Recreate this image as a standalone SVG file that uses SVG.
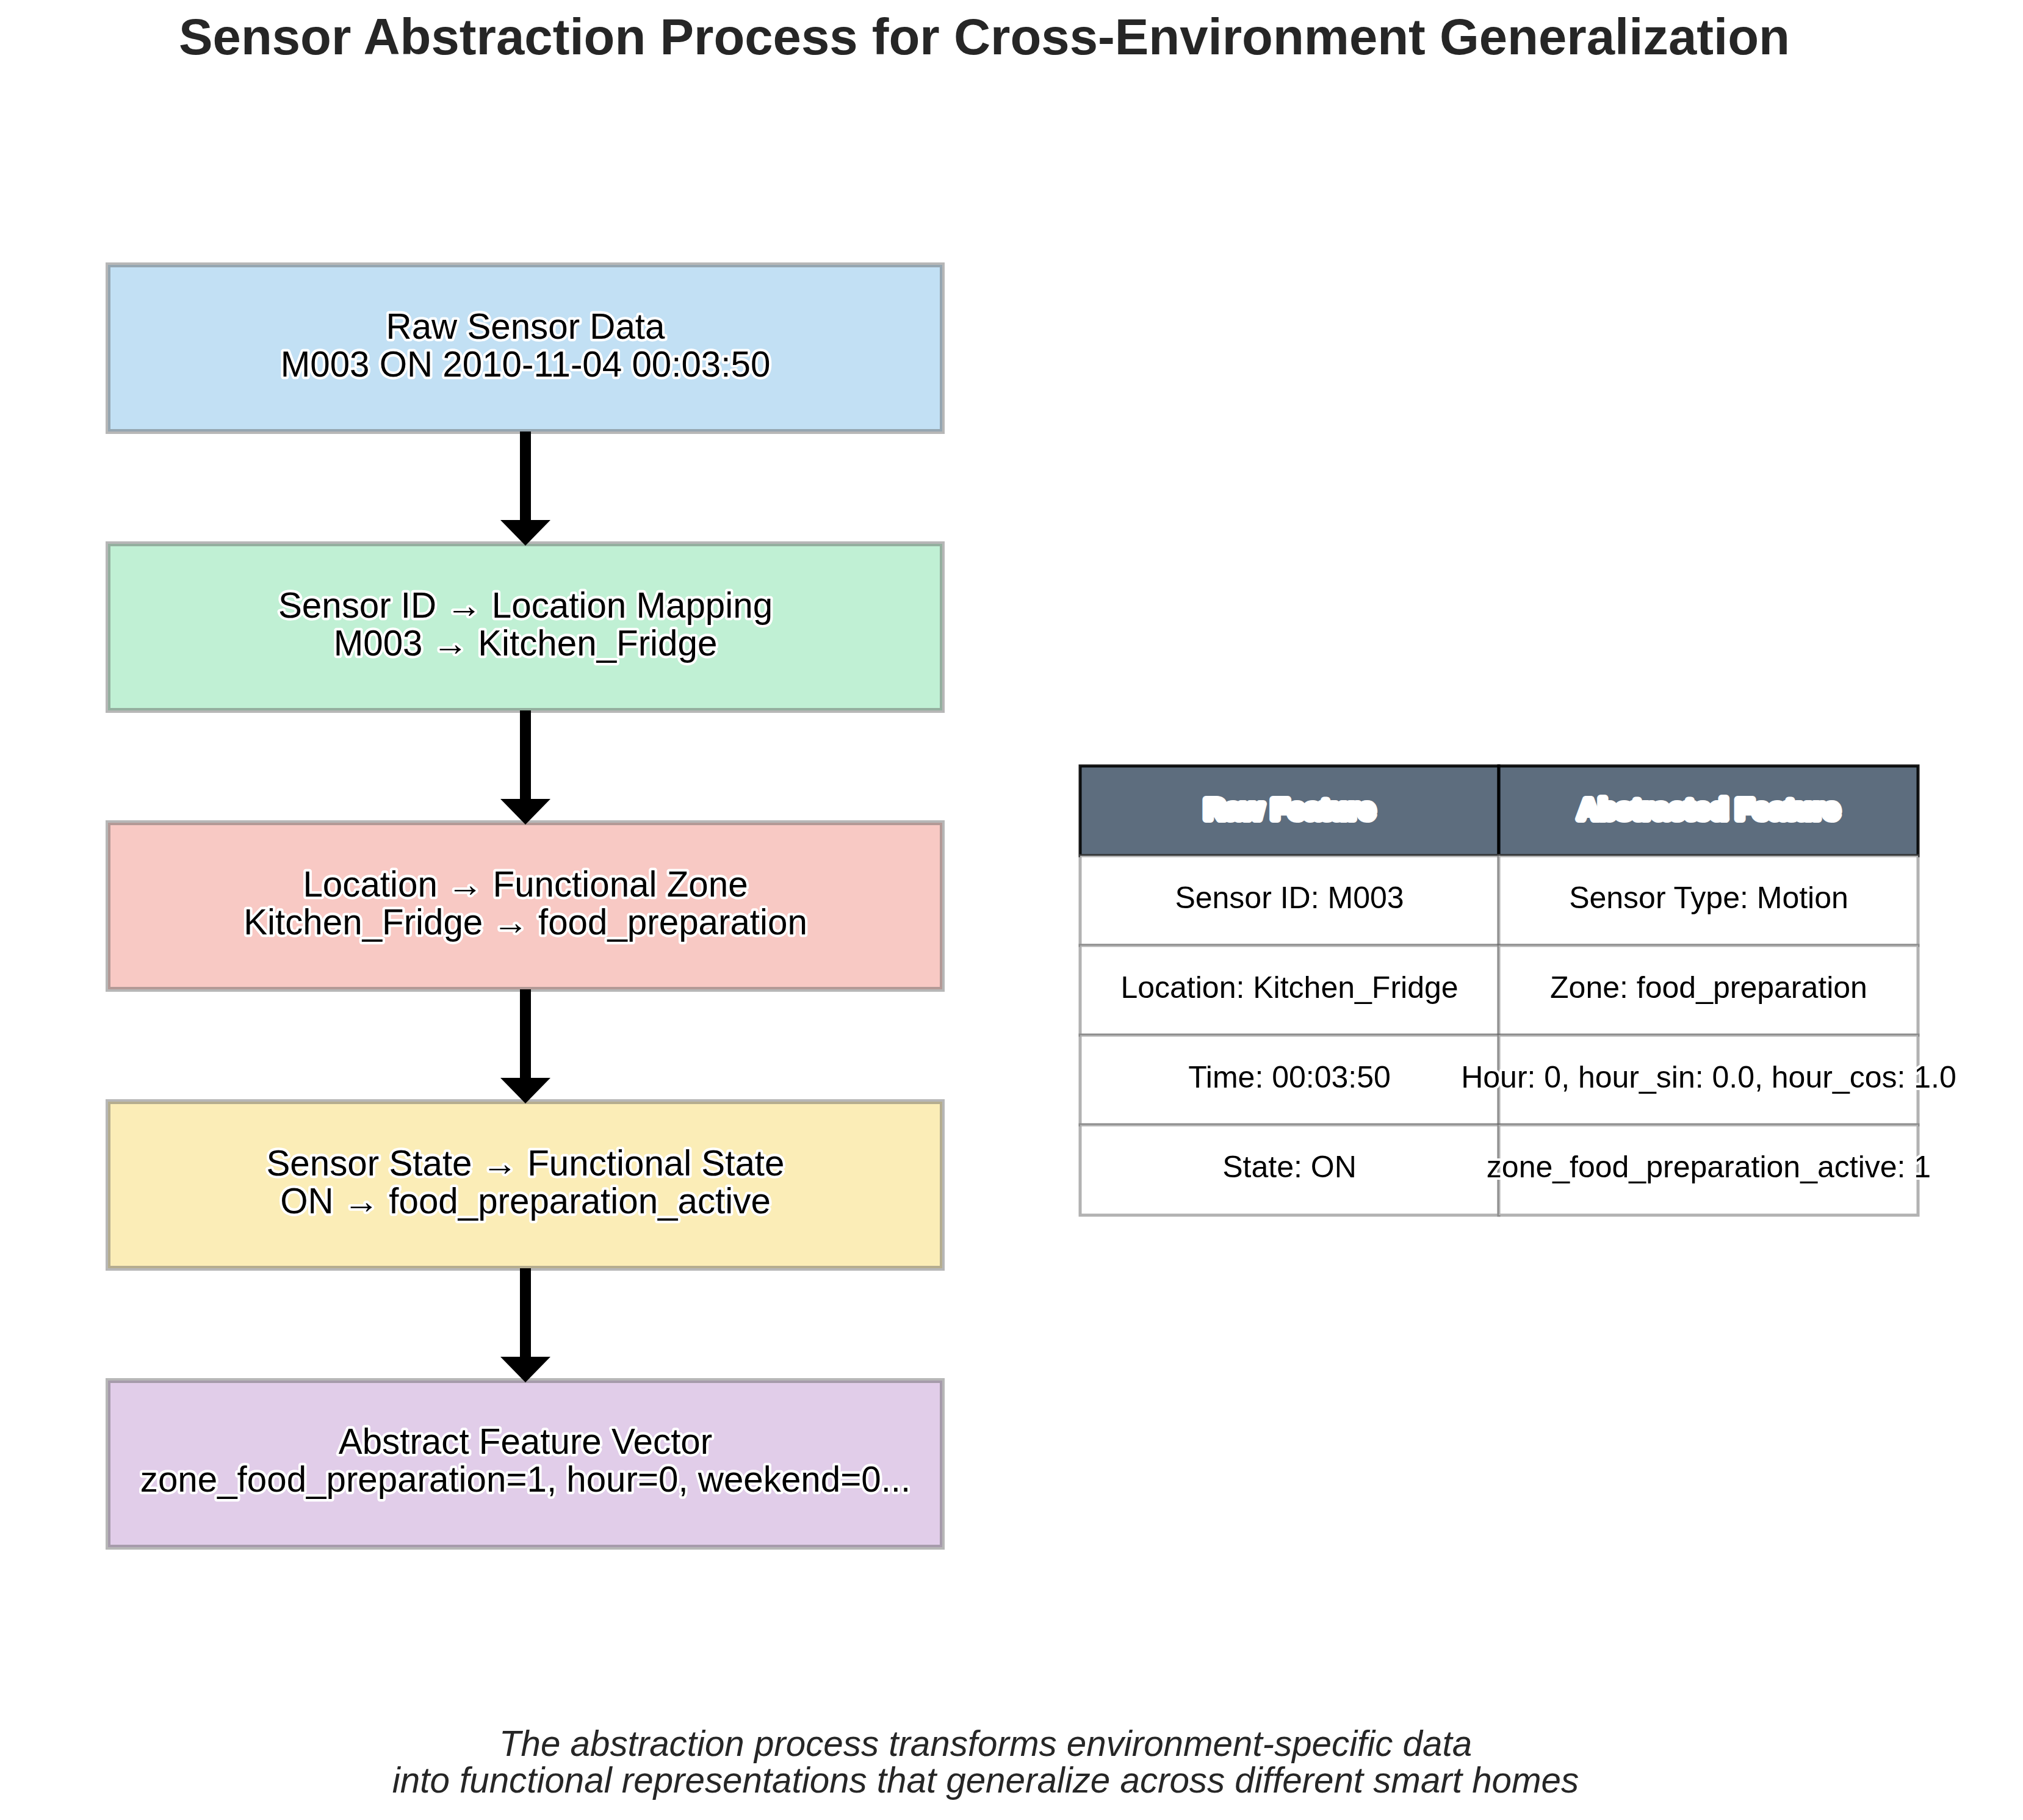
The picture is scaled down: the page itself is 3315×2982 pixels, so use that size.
<svg xmlns="http://www.w3.org/2000/svg" width="3315" height="2982" viewBox="0 0 3315 2982">
<defs>
<style>
.box{stroke:#606060;stroke-opacity:0.45;stroke-width:8}
.nt{font-family:"Liberation Sans",Arial,"DejaVu Sans",sans-serif;font-size:58.3px;fill:#000;text-anchor:middle;stroke:#fff;stroke-width:8.3;stroke-linejoin:round;paint-order:stroke}
.arrow{stroke:#000;stroke-width:18;fill:none}
.hc{fill:#34495e;fill-opacity:0.8;stroke:#000;stroke-opacity:0.9;stroke-width:5}
.bc{fill:#fff;stroke:#666;stroke-opacity:0.5;stroke-width:5}
.ht{font-family:"Liberation Sans",Arial,sans-serif;font-size:47px;font-weight:bold;fill:#fff;text-anchor:middle;stroke:#fff;stroke-width:12;stroke-linejoin:round;paint-order:stroke}
.bt{font-family:"Liberation Sans",Arial,sans-serif;font-size:50px;fill:#000;text-anchor:middle;stroke:#fff;stroke-width:8;stroke-linejoin:round;paint-order:stroke}
.title{font-family:"Liberation Sans",Arial,sans-serif;font-size:83.3px;font-weight:bold;fill:#262626;text-anchor:middle}
.cap{font-family:"Liberation Sans",Arial,sans-serif;font-size:58.3px;font-style:italic;fill:#262626;text-anchor:middle}
</style>
<marker id="ah" markerUnits="userSpaceOnUse" viewBox="0 0 42 82" markerWidth="42" markerHeight="82" refX="0" refY="41" orient="auto">
<path d="M0,0 L42,41 L0,82 z" fill="#000"/>
</marker>
</defs>
<rect width="3315" height="2982" fill="#fff"/>
<text class="title" x="1613" y="89">Sensor Abstraction Process for Cross-Environment Generalization</text>

<g id="node-raw">
<rect class="box" x="177" y="434" width="1367" height="273" fill="#3498db" fill-opacity="0.3"/>
<text class="nt" x="861" y="555">Raw Sensor Data</text>
<text class="nt" x="861" y="617">M003 ON 2010-11-04 00:03:50</text>
</g>
<g id="node-location">
<rect class="box" x="177" y="891" width="1367" height="273" fill="#2ecc71" fill-opacity="0.3"/>
<text class="nt" x="861" y="1012">Sensor ID → Location Mapping</text>
<text class="nt" x="861" y="1074">M003 → Kitchen_Fridge</text>
</g>
<g id="node-zone">
<rect class="box" x="177" y="1348" width="1367" height="273" fill="#e74c3c" fill-opacity="0.3"/>
<text class="nt" x="861" y="1469">Location → Functional Zone</text>
<text class="nt" x="861" y="1531">Kitchen_Fridge → food_preparation</text>
</g>
<g id="node-state">
<rect class="box" x="177" y="1805" width="1367" height="273" fill="#f1c40f" fill-opacity="0.3"/>
<text class="nt" x="861" y="1926">Sensor State → Functional State</text>
<text class="nt" x="861" y="1988">ON → food_preparation_active</text>
</g>
<g id="node-vector">
<rect class="box" x="177" y="2262" width="1367" height="273" fill="#9b59b6" fill-opacity="0.3"/>
<text class="nt" x="861" y="2382">Abstract Feature Vector</text>
<text class="nt" x="861" y="2444">zone_food_preparation=1, hour=0, weekend=0...</text>
</g>

<g id="connectors">
<line class="arrow" x1="861" y1="707" x2="861" y2="852" marker-end="url(#ah)"/>
<line class="arrow" x1="861" y1="1164" x2="861" y2="1309" marker-end="url(#ah)"/>
<line class="arrow" x1="861" y1="1621" x2="861" y2="1766" marker-end="url(#ah)"/>
<line class="arrow" x1="861" y1="2078" x2="861" y2="2223" marker-end="url(#ah)"/>
</g>

<g id="table">
<rect class="hc" x="1770" y="1255" width="686" height="147"/>
<rect class="hc" x="2456" y="1255" width="687" height="147"/>
<rect class="bc" x="1770" y="1402" width="686" height="147"/>
<rect class="bc" x="2456" y="1402" width="687" height="147"/>
<rect class="bc" x="1770" y="1549" width="686" height="147"/>
<rect class="bc" x="2456" y="1549" width="687" height="147"/>
<rect class="bc" x="1770" y="1696" width="686" height="147"/>
<rect class="bc" x="2456" y="1696" width="687" height="147"/>
<rect class="bc" x="1770" y="1843" width="686" height="148"/>
<rect class="bc" x="2456" y="1843" width="687" height="148"/>
<text class="ht" x="2113" y="1342">Raw Feature</text>
<text class="ht" x="2800" y="1342">Abstracted Feature</text>
<text class="bt" x="2113" y="1488">Sensor ID: M003</text>
<text class="bt" x="2800" y="1488">Sensor Type: Motion</text>
<text class="bt" x="2113" y="1635">Location: Kitchen_Fridge</text>
<text class="bt" x="2800" y="1635">Zone: food_preparation</text>
<text class="bt" x="2113" y="1782">Time: 00:03:50</text>
<text class="bt" x="2800" y="1782">Hour: 0, hour_sin: 0.0, hour_cos: 1.0</text>
<text class="bt" x="2113" y="1929">State: ON</text>
<text class="bt" x="2800" y="1929">zone_food_preparation_active: 1</text>
</g>

<text class="cap" x="1615" y="2877">The abstraction process transforms environment-specific data</text>
<text class="cap" x="1615" y="2937">into functional representations that generalize across different smart homes</text>
</svg>
